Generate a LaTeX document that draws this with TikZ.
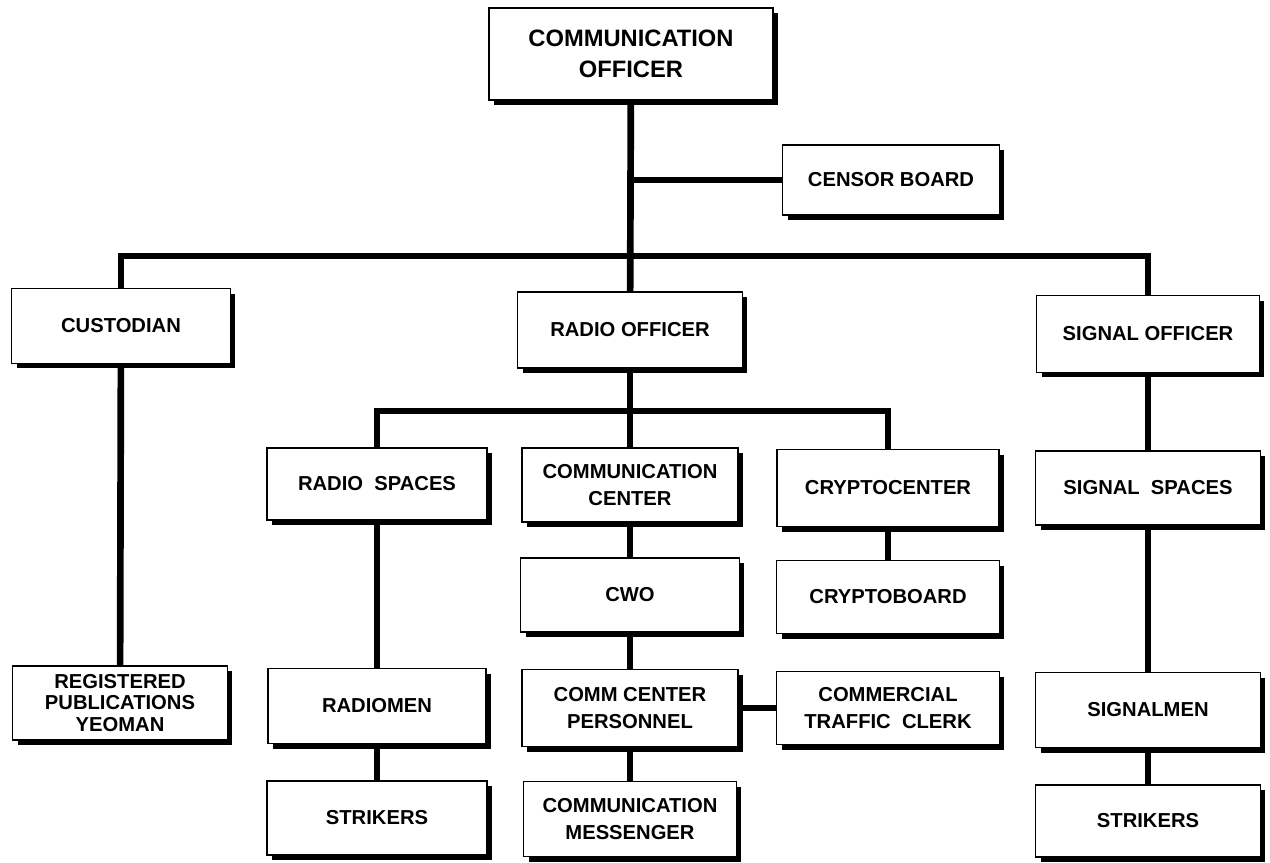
\documentclass[tikz,border=0pt]{standalone}
\usepackage{fontspec}
\setmainfont{Liberation Sans}
\usepackage{tikz}
\usetikzlibrary{shadows}
\tikzstyle{unit} = [rectangle, minimum width=4.4cm, minimum height=1.5cm, inner sep=2pt, text centered, align=center, draw=black, line width=0.9pt, fill=white, font=\bfseries\fontsize{11.5}{15.5}\selectfont, drop shadow={shadow xshift=0.1cm, shadow yshift=-0.1cm, fill=black, opacity=1}]
\tikzstyle{link} = [line width=3.8pt, color=black]

\begin{document}
\begin{tikzpicture}[x=0.02cm, y=-0.02cm]
\useasboundingbox (0,0) rectangle (1270,862);
% Head of the department
\node (commoff) [unit, minimum width=5.68cm, minimum height=1.84cm, font=\bfseries\fontsize{13.5}{18}\selectfont] at (631,54) {COMMUNICATION\\OFFICER};
\node (censor) [unit, minimum width=4.34cm, minimum height=1.4cm] at (891,180) {CENSOR BOARD};

% Second level
\node (custodian) [unit, minimum width=4.38cm] at (121,326) {CUSTODIAN};
\node (radioff) [unit, minimum width=4.5cm, minimum height=1.52cm] at (630,330) {RADIO OFFICER};
\node (sigoff) [unit, minimum width=4.46cm, minimum height=1.54cm] at (1148,334) {SIGNAL OFFICER};

% Spaces under the radio and signal officers
\node (radiosp) [unit, minimum height=1.44cm] at (377,484) {RADIO\ \ SPACES};
\node (commcen) [unit, minimum width=4.32cm, minimum height=1.48cm] at (630,485) {COMMUNICATION\\CENTER};
\node (cryptoc) [unit, minimum width=4.44cm, minimum height=1.54cm] at (888,488) {CRYPTOCENTER};
\node (sigsp) [unit, minimum width=4.5cm, minimum height=1.48cm] at (1148,488) {SIGNAL\ \ SPACES};

\node (cwo) [unit, minimum width=4.38cm, minimum height=1.48cm] at (630,595) {CWO};
\node (cryptob) [unit, minimum width=4.46cm, minimum height=1.46cm] at (888,597) {CRYPTOBOARD};

% Personnel
\node (regpub) [unit, minimum width=4.3cm, minimum height=1.48cm, font=\bfseries\fontsize{11.5}{12.5}\selectfont] at (120,703) {REGISTERED\\PUBLICATIONS\\YEOMAN};
\node (radiomen) [unit, minimum width=4.36cm] at (377,706) {RADIOMEN};
\node (ccpers) [unit, minimum width=4.32cm, minimum height=1.54cm] at (630,708) {COMM CENTER\\PERSONNEL};
\node (commercial) [unit, minimum width=4.46cm, minimum height=1.46cm] at (888,708) {COMMERCIAL\\TRAFFIC\ \ CLERK};
\node (sigmen) [unit, minimum width=4.5cm] at (1148,710) {SIGNALMEN};
\node (strikersa) [unit, minimum height=1.48cm] at (377,818) {STRIKERS};
\node (messenger) [unit, minimum width=4.26cm] at (630,819) {COMMUNICATION\\MESSENGER};
\node (strikersb) [unit, minimum width=4.5cm, minimum height=1.44cm] at (1148,821) {STRIKERS};

% Connectors
\coordinate (bus) at (631,256);
\coordinate (subbus) at (630,411);
\draw[link] (commoff) -- (radioff);
\draw[link] (commoff |- censor) -- (censor);
\draw[link] (custodian) |- (bus) -| (sigoff);
\draw[link] (radiosp) |- (subbus) -| (cryptoc);
\draw[link] (radioff) -- (commcen);
\draw[link] (custodian) -- (regpub);
\draw[link] (radiosp) -- (radiomen);
\draw[link] (radiomen) -- (strikersa);
\draw[link] (commcen) -- (cwo);
\draw[link] (cwo) -- (ccpers);
\draw[link] (ccpers) -- (messenger);
\draw[link] (ccpers) -- (commercial);
\draw[link] (cryptoc) -- (cryptob);
\draw[link] (sigoff) -- (sigsp);
\draw[link] (sigsp) -- (sigmen);
\draw[link] (sigmen) -- (strikersb);
\end{tikzpicture}
\end{document}
